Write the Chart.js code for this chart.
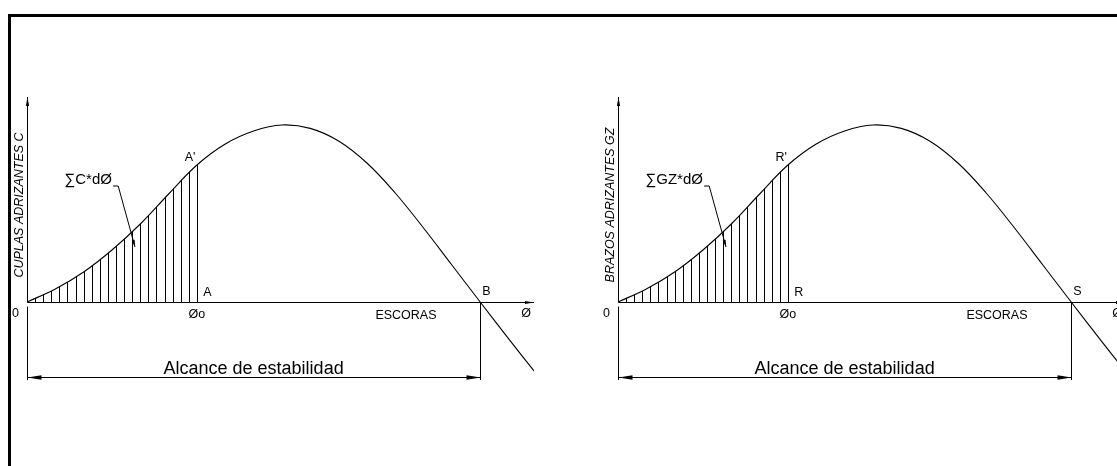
<!DOCTYPE html>
<html>
<head>
<meta charset="utf-8">
<script src="https://cdn.jsdelivr.net/npm/chart.js@4.4.0/dist/chart.umd.min.js"></script>
<style>
  html, body { margin: 0; padding: 0; background: #fff; width: 1117px; height: 466px; overflow: hidden; }
  .frame { position: absolute; left: 8px; top: 14px; width: 1200px; height: 500px; border-top: 3px solid #000; border-left: 3px solid #000; }
  .panel { position: absolute; top: 0; width: 560px; height: 466px; }
</style>
</head>
<body>
<div class="frame"></div>
<div class="panel" style="left:0"><canvas id="couples" width="560" height="466"></canvas></div>
<div class="panel" style="left:591px"><canvas id="arms" width="560" height="466"></canvas></div>
<script>
// heel angle (deg) and righting value of the stability curve
const heel = [0, 5, 10, 15, 20, 25, 30, 35, 40, 45, 50, 55, 60, 65, 70, 75, 80, 85, 89.5];
const righting = [0, 0.065, 0.15, 0.26, 0.39, 0.54, 0.685, 0.79, 0.855, 0.885, 0.868, 0.805, 0.695, 0.545, 0.37, 0.185, 0, -0.183, -0.345];

const phi0 = 30;        // Øo, end of the integrated area
const vanishing = 80;   // heel where the curve crosses zero
const hatchCount = 21;  // strips between 0 and Øo
const dimLevel = -0.375;

const FONT = '"Liberation Sans", Arial, sans-serif';

function seg(ctx, x1, y1, x2, y2) {
  ctx.beginPath();
  ctx.moveTo(x1, y1);
  ctx.lineTo(x2, y2);
  ctx.stroke();
}

function arrowHead(ctx, x1, y1, x2, y2, len, half) {
  const a = Math.atan2(y2 - y1, x2 - x1);
  const c = Math.cos(a), s = Math.sin(a);
  ctx.beginPath();
  ctx.moveTo(x2, y2);
  ctx.lineTo(x2 - len * c + half * s, y2 - len * s - half * c);
  ctx.lineTo(x2 - len * c - half * s, y2 - len * s + half * c);
  ctx.closePath();
  ctx.fill();
}

function text(ctx, str, x, y, size, align, style) {
  ctx.font = (style || '') + ' ' + size + 'px ' + FONT;
  ctx.textAlign = align || 'center';
  ctx.textBaseline = 'middle';
  ctx.fillText(str, x, y);
}

const drawing = {
  id: 'drawing',
  afterDatasetsDraw(chart, args, opts) {
    const { ctx, scales: { x, y } } = chart;
    const X = v => x.getPixelForValue(v);
    const Y = v => y.getPixelForValue(v);
    const crisp = v => Math.round(v) + 0.5;
    const line = chart.getDatasetMeta(0).dataset;
    const x0 = crisp(X(0)), y0 = crisp(Y(0));

    ctx.save();
    ctx.strokeStyle = '#000';
    ctx.fillStyle = '#000';
    ctx.lineWidth = 1;

    // vertical strips under the curve up to Øo, clipped by the curve itself
    ctx.save();
    ctx.beginPath();
    line.path(ctx);
    ctx.lineTo(X(x.max), y0);
    ctx.lineTo(X(0), y0);
    ctx.closePath();
    ctx.clip();
    for (let k = 1; k <= hatchCount; k++) {
      const px = crisp(X(phi0 * k / hatchCount));
      seg(ctx, px, y0, px, Y(y.max));
    }
    ctx.restore();

    // axes with arrows
    seg(ctx, x0, y0, X(x.max), y0);
    arrowHead(ctx, x0, y0, X(x.max), y0, 9, 1.6);
    seg(ctx, x0, y0, x0, Y(y.max));
    arrowHead(ctx, x0, y0, x0, Y(y.max), 9, 1.6);

    // range of stability dimension
    const xv = crisp(X(vanishing));
    const yd = crisp(Y(dimLevel));
    seg(ctx, x0, y0 + 4, x0, Y(-0.39));
    seg(ctx, xv, y0, xv, Y(-0.39));
    seg(ctx, x0, yd, xv, yd);
    arrowHead(ctx, xv, yd, x0, yd, 14, 2.2);
    arrowHead(ctx, x0, yd, xv, yd, 14, 2.2);
    text(ctx, 'Alcance de estabilidad', X(vanishing / 2), Y(-0.335), 18);

    // leader for the summation label
    seg(ctx, X(15.2), Y(0.58), X(16.1), Y(0.58));
    seg(ctx, X(16.1), Y(0.58), X(19.07), Y(0.275));
    arrowHead(ctx, X(16.1), Y(0.58), X(19.07), Y(0.275), 7, 1.5);
    text(ctx, opts.sumLabel, X(15), Y(0.61), 15, 'right');

    // point and axis labels
    text(ctx, '0', X(-2.05), Y(-0.06), 12.5);
    text(ctx, 'Øo', X(phi0), Y(-0.065), 12.5);
    text(ctx, 'ESCORAS', X(66.9), Y(-0.068), 12.5);
    text(ctx, 'Ø', X(88.1), Y(-0.06), 12.5);
    text(ctx, opts.foot, X(31.1), Y(0.045), 12.5, 'left');
    text(ctx, opts.top, X(28.8), Y(0.72), 12.5);
    text(ctx, opts.end, X(81.1), Y(0.05), 12.5);

    // rotated axis title
    ctx.translate(X(-1.25), Y(0.485));
    ctx.rotate(-Math.PI / 2);
    text(ctx, opts.yTitle, 0, 0, 12.5, 'center', 'italic');
    ctx.restore();
  }
};

function makePanel(id, labels) {
  return new Chart(document.getElementById(id), {
    type: 'line',
    data: {
      datasets: [
        {
          data: heel.map((h, i) => ({ x: h, y: righting[i] })),
          borderColor: '#000',
          borderWidth: 1.1,
          pointRadius: 0,
          tension: 0.4,
          fill: false
        }
      ]
    },
    options: {
      responsive: false,
      animation: false,
      layout: { padding: { left: 27, right: 26, top: 97, bottom: 74 } },
      plugins: {
        legend: { display: false },
        tooltip: { enabled: false },
        drawing: labels
      },
      scales: {
        x: { type: 'linear', min: 0, max: 89.5, display: false },
        y: { type: 'linear', min: -0.45, max: 1.025, display: false }
      }
    },
    plugins: [drawing]
  });
}

makePanel('couples', { yTitle: 'CUPLAS ADRIZANTES C', sumLabel: '∑C*dØ', top: "A'", foot: 'A', end: 'B' });
makePanel('arms', { yTitle: 'BRAZOS ADRIZANTES GZ', sumLabel: '∑GZ*dØ', top: "R'", foot: 'R', end: 'S' });
</script>
</body>
</html>
